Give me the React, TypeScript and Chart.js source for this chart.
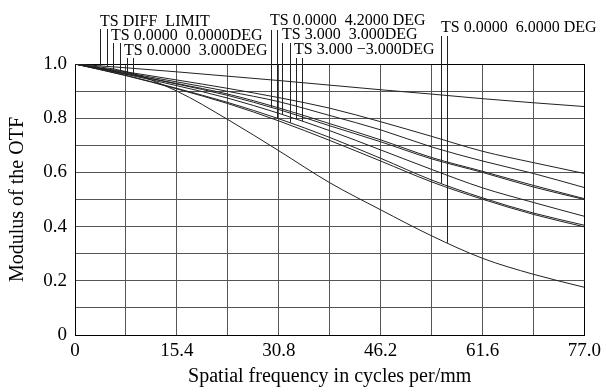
import React, { useEffect, useRef } from 'react';
import { Chart, registerables } from 'chart.js';

Chart.register(...registerables);

// ---- data ----
const freq = [0, 7.7, 15.4, 23.1, 30.8, 38.5, 46.2, 53.9, 61.6, 69.3, 77];
const xTickLabels = ['0', '', '15.4', '', '30.8', '', '46.2', '', '61.6', '', '77.0'];
const yTickValues = [0, 0.1, 0.2, 0.3, 0.4, 0.5, 0.6, 0.7, 0.8, 0.9, 1.0];
const yTickLabels = ['0', '', '0.2', '', '0.4', '', '0.6', '', '0.8', '', '1.0'];

const diffLimit = [1, 0.986, 0.971, 0.955, 0.939, 0.922, 0.905, 0.889, 0.872, 0.857, 0.843];
const curveA = [1, 0.971, 0.941, 0.910, 0.876, 0.837, 0.787, 0.733, 0.678, 0.636, 0.596];
const curveB = [1, 0.968, 0.934, 0.899, 0.861, 0.810, 0.757, 0.694, 0.642, 0.596, 0.544];
const curveC = [1, 0.965, 0.928, 0.889, 0.838, 0.780, 0.720, 0.655, 0.604, 0.552, 0.503];
const curveD = [1, 0.964, 0.926, 0.884, 0.832, 0.772, 0.713, 0.650, 0.600, 0.546, 0.500];
const curveE = [1, 0.962, 0.920, 0.874, 0.818, 0.754, 0.683, 0.611, 0.543, 0.489, 0.438];
const curveF = [1, 0.958, 0.910, 0.858, 0.798, 0.729, 0.652, 0.572, 0.506, 0.450, 0.405];
const curveG = [1, 0.957, 0.908, 0.854, 0.790, 0.718, 0.642, 0.565, 0.501, 0.445, 0.399];
const curveH = [1, 0.972, 0.900, 0.795, 0.680, 0.562, 0.462, 0.366, 0.283, 0.224, 0.176];

const curves = [diffLimit, curveA, curveB, curveC, curveD, curveE, curveF, curveG, curveH];

const labelTexts = [
  'TS DIFF  LIMIT',
  'TS 0.0000  0.0000DEG',
  'TS 0.0000  3.000DEG',
  'TS 0.0000  4.2000 DEG',
  'TS 3.000  3.000DEG',
  'TS 3.000 \u22123.000DEG',
  'TS 0.0000  6.0000 DEG',
];

// pointer lines: frequency where they meet a curve, index of that curve
const pointerFreq = [3.76, 4.81, 5.71, 6.77, 7.82, 8.72, 29.58, 30.57, 31.33, 32.44, 33.34, 34.33, 55.3, 56.29];
const pointerCurve = [0, 0, 1, 2, 3, 4, 4, 6, 5, 6, 5, 5, 6, 8];

// ---- layout (pixels) ----
const labelPos = [
  [100, 26], [111, 40], [124, 55], [270, 25], [282, 39], [294, 54], [441, 32],
];
const pointerTop = [29, 29, 43, 43, 58, 58, 30, 30, 43, 43, 58, 58, 36, 36];

const serif = '"Liberation Serif", "Times New Roman", serif';

function interp(xs: number[], ys: number[], x: number) {
  for (let i = 0; i < xs.length - 1; i++) {
    if (x >= xs[i] && x <= xs[i + 1]) {
      const t = (x - xs[i]) / (xs[i + 1] - xs[i]);
      return ys[i] + t * (ys[i + 1] - ys[i]);
    }
  }
  return ys[ys.length - 1];
}

const labelPlugin = {
  id: 'otfLabels',
  afterDatasetsDraw(chart: any) {
    const ctx = chart.ctx;
    const xs = chart.scales.x;
    const ys = chart.scales.y;
    ctx.save();
    ctx.strokeStyle = '#222';
    ctx.lineWidth = 1;
    pointerFreq.forEach((f, i) => {
      const v = interp(freq, curves[pointerCurve[i]], f);
      const px = Math.round(xs.getPixelForValue(f)) + 0.5;
      ctx.beginPath();
      ctx.moveTo(px, pointerTop[i]);
      ctx.lineTo(px, ys.getPixelForValue(v));
      ctx.stroke();
    });
    ctx.fillStyle = '#000';
    ctx.font = '16px ' + serif;
    ctx.textBaseline = 'alphabetic';
    ctx.textAlign = 'left';
    labelTexts.forEach((t, i) => {
      ctx.fillText(t, labelPos[i][0], labelPos[i][1]);
    });
    ctx.restore();
  },
};

export default function App() {
  const ref = useRef<HTMLCanvasElement>(null);
  useEffect(() => {
    if (!ref.current) return;
    const chart = new Chart(ref.current, {
      type: 'line',
      data: {
        datasets: curves.map((c, i) => ({
          label: 'curve' + i,
          data: freq.map((x, j) => ({ x, y: c[j] })),
          borderColor: '#222',
          borderWidth: 1,
          pointRadius: 0,
          fill: false,
          cubicInterpolationMode: 'monotone' as const,
        })),
      },
      options: {
        responsive: false,
        animation: false,
        devicePixelRatio: 1,
        layout: { padding: { top: 64, right: 19, left: 0, bottom: 0 } },
        plugins: { legend: { display: false }, tooltip: { enabled: false } },
        scales: {
          x: {
            type: 'linear',
            min: 0,
            max: 77,
            afterBuildTicks: (axis: any) => {
              axis.ticks = freq.map((v) => ({ value: v }));
            },
            afterFit: (axis: any) => {
              axis.height = 57;
            },
            ticks: {
              autoSkip: false,
              maxRotation: 0,
              padding: 5,
              color: '#000',
              font: { family: serif, size: 19 },
              callback: (_v: any, i: number) => xTickLabels[i],
            },
            grid: {
              drawTicks: false,
              color: (c: any) => (c.index === freq.length - 1 ? '#000' : '#555'),
              lineWidth: 1,
            },
            border: { display: true, color: '#000', width: 1 },
            title: {
              display: true,
              text: 'Spatial frequency in cycles per/mm',
              color: '#000',
              font: { family: serif, size: 20 },
              padding: { top: 0, bottom: 3 },
            },
          },
          y: {
            type: 'linear',
            min: 0,
            max: 1,
            afterBuildTicks: (axis: any) => {
              axis.ticks = yTickValues.map((v) => ({ value: v }));
            },
            afterFit: (axis: any) => {
              axis.width = 75;
            },
            ticks: {
              autoSkip: false,
              padding: 8,
              color: '#000',
              font: { family: serif, size: 19 },
              callback: (_v: any, i: number) => yTickLabels[i],
            },
            grid: {
              drawTicks: false,
              color: (c: any) => (c.index === yTickValues.length - 1 ? '#000' : '#555'),
              lineWidth: 1,
            },
            border: { display: true, color: '#000', width: 1 },
            title: {
              display: true,
              text: 'Modulus of the OTF',
              color: '#000',
              font: { family: serif, size: 20 },
              padding: { top: 6, bottom: 0 },
            },
          },
        },
      },
      plugins: [labelPlugin],
    });
    return () => chart.destroy();
  }, []);
  return (
    <div style={{ position: 'fixed', left: 0, top: 0, width: 606, height: 392, background: '#fff' }}>
      <canvas ref={ref} width={606} height={392} />
    </div>
  );
}
